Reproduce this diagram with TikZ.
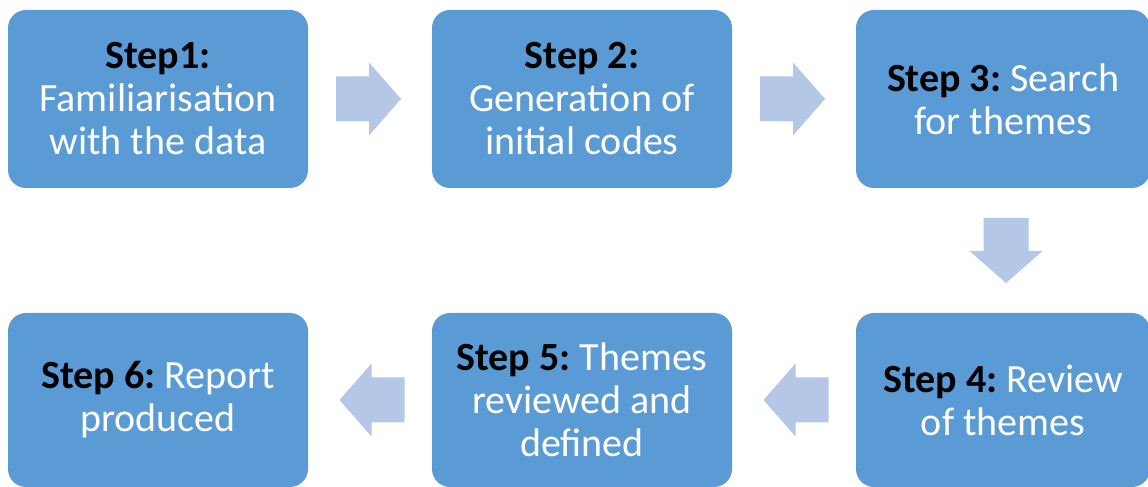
\documentclass[tikz,border=0pt]{standalone}
\usepackage{fontspec}
\setmainfont{Carlito}
\frenchspacing
\usetikzlibrary{calc}
\definecolor{boxblue}{HTML}{5B9BD5}
\definecolor{arrowblue}{HTML}{B4C7E7}
\tikzset{
  stepbox/.style={fill=boxblue, rounded corners=18pt, text=white,
    align=center, inner sep=0pt, font=\fontsize{40}{43}\selectfont},
  topbox/.style={stepbox, minimum width=300pt, minimum height=178pt},
  botbox/.style={stepbox, minimum width=300pt, minimum height=174pt},
  flow/.pic={
    \fill[arrowblue] (-32.5,-22.5) -- (0.5,-22.5) -- (0.5,-36.5) -- (32.5,0)
      -- (0.5,36.5) -- (0.5,22.5) -- (-32.5,22.5) -- cycle;
  }
}
\newcommand{\stp}[1]{\textcolor{black}{\textbf{#1}}}
\begin{document}
\begin{tikzpicture}[x=1pt,y=1pt]
\useasboundingbox (0,0) rectangle (1148,487);

% top row
\node[topbox] (s1) at (158,388) {\stp{Step1:}\\Familiarisation\\with the data};
\node[topbox] (s2) at (582,388) {\stp{Step 2:}\\Generation of\\initial codes};
\node[topbox, minimum width=294pt] (s3) at (1003,388) {\stp{Step 3:} Search\\for themes};

% bottom row
\node[botbox, minimum width=294pt] (s4) at (1003,87) {\stp{Step 4:} Review\\of themes};
\node[botbox] (s5) at (582,87) {\stp{Step 5:} Themes\\reviewed and\\defined};
\node[botbox] (s6) at (158,87) {\stp{Step 6:} Report\\produced};

% block arrows between the steps
\pic at ($(s1.east)!0.5!(s2.west)+(-1.5,0)$) {flow};
\pic at ($(s2.east)!0.5!(s3.west)+(-1.5,0)$) {flow};
\pic[rotate=-90] at ($(s3.south)!0.5!(s4.north)+(3,0)$) {flow};
\pic[rotate=180] at ($(s4.west)!0.5!(s5.east)+(2,0)$) {flow};
\pic[rotate=180] at ($(s5.west)!0.5!(s6.east)+(2,0)$) {flow};
\end{tikzpicture}
\end{document}
